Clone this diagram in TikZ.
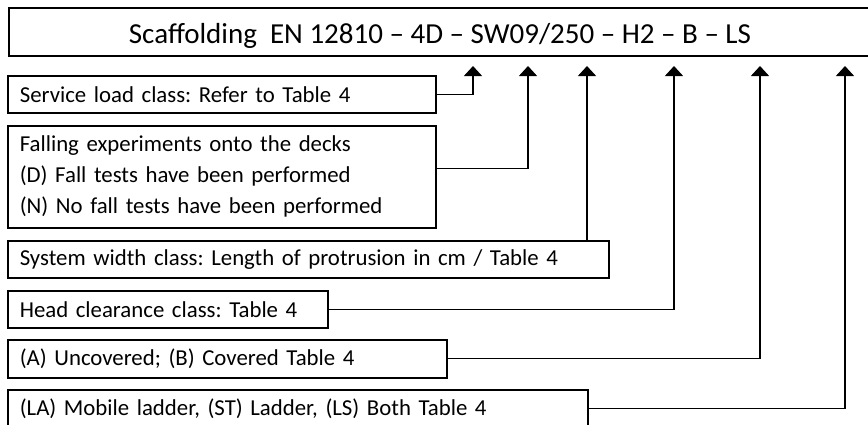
\documentclass[tikz,border=0pt]{standalone}
\usepackage{fontspec}
\setmainfont{Carlito}
\frenchspacing
\usetikzlibrary{arrows.meta,calc}
\begin{document}
\begin{tikzpicture}[x=1pt,y=-1pt,
  box/.style={draw,line width=1.6pt,anchor=north west,inner xsep=12pt,inner ysep=0pt,
    minimum height=37pt,align=left,font=\fontsize{22.8}{31}\selectfont},
  conn/.style={line width=1.3pt},
  arr/.style={conn,-{Triangle[width=18pt,length=10pt]}}]
\useasboundingbox (0,0) rectangle (868,424);
\clip (0,0) rectangle (868,424);
\node[draw,line width=1.8pt,anchor=north west,minimum width=880pt,minimum height=48pt,inner sep=0pt] (top) at (8,7) {};
\node[anchor=base,font=\fontsize{29}{32}\selectfont] (title) at (440,43) {Scaffolding\ \ EN 12810 – 4D – SW09/250 – H2 – B – LS};
\node[box,text width=404pt] (b1) at (7,75) {Service load class: Refer to Table 4};
\node[box,text width=404pt,minimum height=102pt] (b2) at (7,125) {Falling experiments onto the decks\\(D) Fall tests have been performed\\(N) No fall tests have been performed};
\node[box,text width=577pt] (b3) at (7,240) {System width class: Length of protrusion in cm / Table 4};
\node[box,text width=296pt] (b4) at (7,290) {Head clearance class: Table 4};
\node[box,text width=415pt,minimum height=38pt] (b5) at (7,339) {(A) Uncovered; (B) Covered Table 4};
\node[box,text width=556pt] (b6) at (7,389) {(LA) Mobile ladder, (ST) Ladder, (LS) Both Table 4};
\coordinate (a1) at (473,66);
\coordinate (a2) at (528,66);
\coordinate (a3) at (587,66);
\coordinate (a4) at (674,66);
\coordinate (a5) at (760,66);
\coordinate (a6) at (845,66);
\draw[arr] (b1.east) -| (a1);
\draw[arr] ([yshift=8pt]b2.east) -| (a2);
\draw[arr] (b3.north -| a3) -- (a3);
\draw[arr] (b4.east) -| (a4);
\draw[arr] (b5.east) -| (a5);
\draw[arr] (b6.east) -| (a6);
\end{tikzpicture}
\end{document}
